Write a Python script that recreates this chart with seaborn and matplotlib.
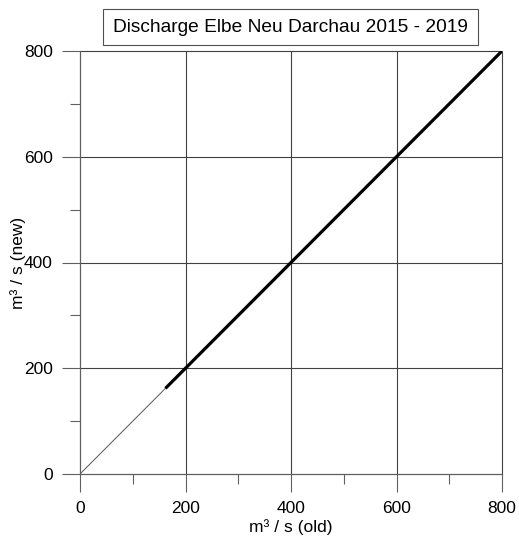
import matplotlib
matplotlib.use("Agg")
import matplotlib.pyplot as plt
import seaborn as sns
import pandas as pd

# discharge pairs (m³/s), old rating vs new rating
q_old = [162, 200, 250, 300, 350, 400, 450, 500, 550, 600, 650, 700, 750, 800]
q_new = [162, 200, 250, 300, 350, 400, 450, 500, 550, 600, 650, 700, 750, 800]
# 1:1 reference line
ref = [0, 800]
major_ticks = [0, 200, 400, 600, 800]
minor_ticks = [100, 300, 500, 700]

sns.set_style("white")
plt.rcParams["font.family"] = ["Liberation Sans", "DejaVu Sans"]
plt.rcParams["text.color"] = "black"
plt.rcParams["axes.labelcolor"] = "black"

fig = plt.figure(figsize=(5.19, 5.39), dpi=100)
ax = fig.add_axes([80 / 519, 1 - 474 / 539, 422 / 519, 423 / 539])

df = pd.DataFrame({"old": q_old, "new": q_new})
ax.plot(ref, ref, color="#555555", lw=0.7, zorder=2)
sns.lineplot(data=df, x="old", y="new", ax=ax, color="black", lw=2.3,
             solid_capstyle="butt", zorder=3)

ax.set_xlim(0, 800)
ax.set_ylim(0, 800)
ax.set_xticks(major_ticks)
ax.set_yticks(major_ticks)
ax.set_xticks(minor_ticks, minor=True)
ax.set_yticks(minor_ticks, minor=True)
ax.grid(True, which="major", color="#404040", lw=0.8)
for gl in ax.get_xgridlines() + ax.get_ygridlines():
    gl.set_clip_on(False)
ax.set_axisbelow(True)

for s in ["top", "right"]:
    ax.spines[s].set_visible(False)
for s in ["left", "bottom"]:
    ax.spines[s].set_color("#606060")
    ax.spines[s].set_linewidth(0.8)

ax.tick_params(which="major", direction="out", length=13, width=0.8,
               color="#606060", labelsize=12.5, pad=6.5, labelcolor="black")
ax.tick_params(which="minor", direction="out", length=7, width=0.8,
               color="#606060")
ax.tick_params(axis="x", which="both", bottom=True)
ax.tick_params(axis="y", which="both", left=True)

ax.set_xlabel("m³ / s (old)", fontsize=12.5, labelpad=2)
ax.set_ylabel("m³ / s (new)", fontsize=12.5)
ax.yaxis.set_label_coords(-0.127, 0.5)

fig.text(290.5 / 519, 1 - 27 / 539, "Discharge Elbe Neu Darchau 2015 - 2019",
         ha="center", va="center", fontsize=13.8, color="black",
         bbox=dict(boxstyle="square,pad=0.5", fc="white", ec="#505050", lw=0.8))

fig.savefig("out.png", dpi=100)
